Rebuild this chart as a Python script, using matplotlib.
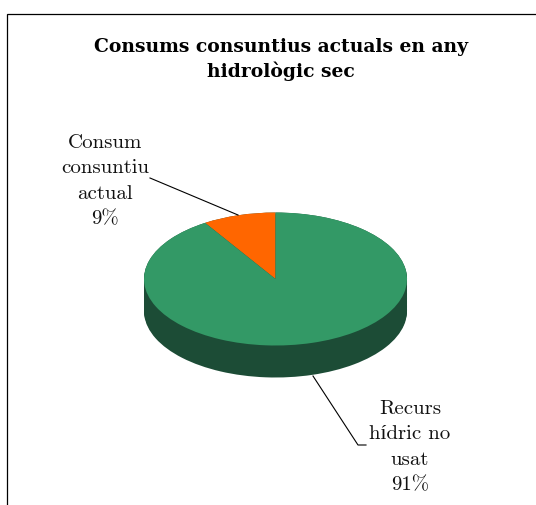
import numpy as np
import matplotlib
matplotlib.use('Agg')
import matplotlib.pyplot as plt

values = [9, 91]
names = ['Consum\nconsuntiu\nactual\n9%', 'Recurs\nhídric no\nusat\n91%']
title = 'Consums consuntius actuals en any\nhidrològic sec'
top_colors = ['#ff6600', '#339966']
side_color = '#1c4c36'

W, H = 536, 506
cx, cy, rx, ry = 275.5, 280, 131.5, 66.5
depth = 32 / ry

fig = plt.figure(figsize=(W / 100, H / 100), dpi=100, facecolor='white')

# pie squashed into an ellipse, side built by stacking dark copies
ax = fig.add_axes([0, 0, 1, 1])
for d in np.arange(depth, 0, -0.02):
    ax.pie(values, colors=[side_color, side_color], startangle=90, counterclock=True, center=(0, -d))
ax.pie(values, colors=top_colors, startangle=90, counterclock=True)
ax.set_aspect('auto')
ax.set_xlim(-cx / rx, (W - cx) / rx)
ax.set_ylim(-(H - cy) / ry, cy / ry)

# overlay in pixel units for frame, leader lines and text
ov = fig.add_axes([0, 0, 1, 1])
ov.set_xlim(0, W)
ov.set_ylim(H, 0)
ov.axis('off')
ov.patch.set_alpha(0)

ov.plot([7, 7, W], [H, 14.5, 14.5], color='black', lw=0.9, solid_joinstyle='miter')
ov.plot([150, 238], [179, 216], color='black', lw=0.8)
ov.plot([313, 358, 366], [377, 446, 446], color='black', lw=0.8)

serif = ['cmr10', 'Liberation Serif']
ov.text(105, 181, names[0], ha='center', va='center', family=serif, fontsize=15, linespacing=1.55, color='#111111')
ov.text(410, 447, names[1], ha='center', va='center', family=serif, fontsize=15, linespacing=1.55, color='#111111')
ov.text(281, 59.5, title, ha='center', va='center', family='DejaVu Serif', fontsize=13.5, fontweight='bold', linespacing=1.38, color='black')

fig.savefig('out.png', dpi=100)
